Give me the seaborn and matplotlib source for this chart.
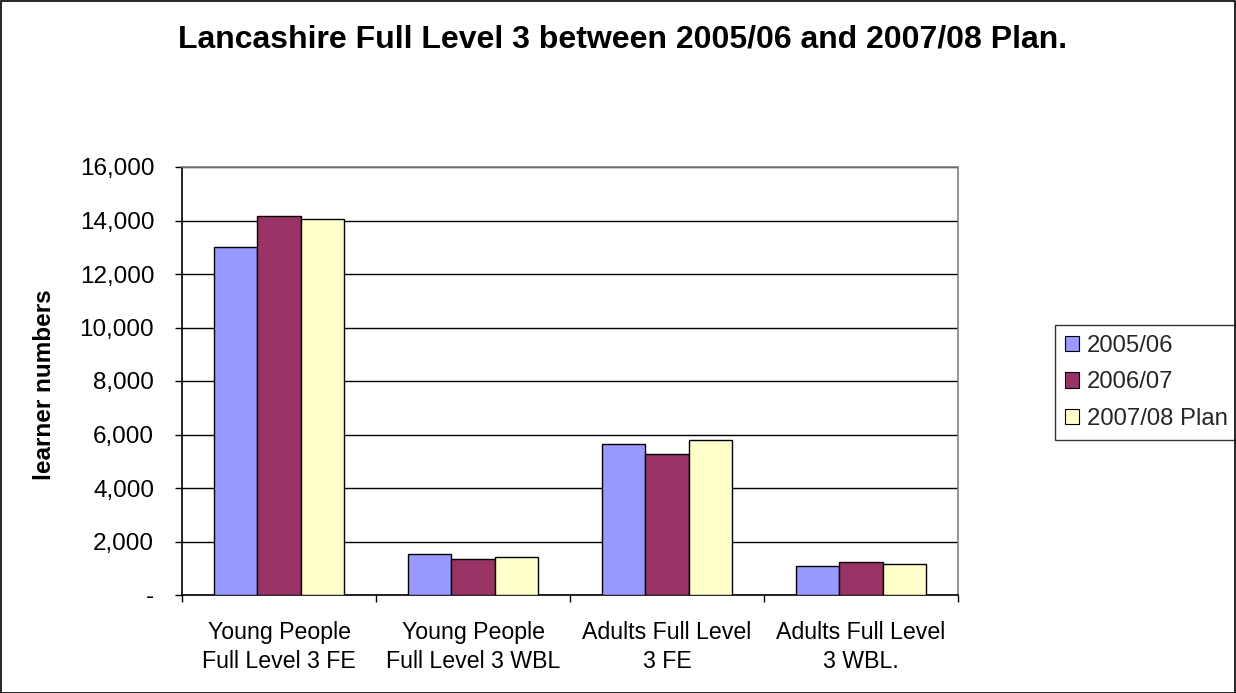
import matplotlib
matplotlib.use("Agg")
import matplotlib.pyplot as plt
import matplotlib.ticker as mticker
from matplotlib.patches import Rectangle
import seaborn as sns
import pandas as pd

categories = ["Young People\nFull Level 3 FE", "Young People\nFull Level 3 WBL",
              "Adults Full Level\n3 FE", "Adults Full Level\n3 WBL."]
series = ["2005/06", "2006/07", "2007/08 Plan"]
v_2005 = [13020, 1530, 5640, 1070]
v_2006 = [14150, 1360, 5270, 1250]
v_2007 = [14050, 1420, 5810, 1150]
colors = ["#9999FF", "#993366", "#FFFFCC"]

rows = []
for s, vals in zip(series, [v_2005, v_2006, v_2007]):
    for c, v in zip(categories, vals):
        rows.append({"cat": c, "series": s, "value": v})
df = pd.DataFrame(rows)

sns.set_theme(style="white")
plt.rcParams['font.family'] = ['Liberation Sans', 'DejaVu Sans']

fig = plt.figure(figsize=(12.36, 6.93), dpi=100)
W, H = 1236, 693
ax = fig.add_axes([182 / W, 1 - 595 / H, (958 - 182) / W, (595 - 167) / H])

sns.barplot(data=df, x="cat", y="value", hue="series", palette=colors,
            order=categories, hue_order=series, width=0.667, gap=0,
            saturation=1, edgecolor="black", linewidth=1.0, ax=ax,
            legend=True, zorder=3)

ax.set_ylim(0, 16000)
ax.set_xlim(-0.5, 3.5)
ax.yaxis.set_major_locator(mticker.MultipleLocator(2000))
ax.yaxis.set_major_formatter(mticker.FuncFormatter(lambda v, p: "-" if v == 0 else f"{int(v):,}"))
ax.grid(axis="y", color="black", linewidth=1.0, zorder=0)
ax.set_axisbelow(True)
for sp in ["left", "bottom"]:
    ax.spines[sp].set_color("black")
    ax.spines[sp].set_linewidth(1.2)
ax.spines["right"].set_color("#808080")
ax.spines["right"].set_linewidth(1.2)
ax.spines["top"].set_color("#808080")
ax.spines["top"].set_linewidth(1.2)

ax.tick_params(axis="y", which="major", left=True, length=5, width=1, color="black",
               labelsize=17.5, pad=15, labelcolor="black")
ax.tick_params(axis="x", which="major", length=0, labelsize=16.7, pad=19, labelcolor="black")
for lbl in ax.get_xticklabels():
    lbl.set_linespacing(1.33)
ax.xaxis.set_minor_locator(mticker.FixedLocator([-0.5, 0.5, 1.5, 2.5, 3.5]))
ax.tick_params(axis="x", which="minor", bottom=True, length=5, width=1, color="black")

ax.set_xlabel("")
ax.set_ylabel("")
fig.text(45 / W, 1 - 385 / H, "learner numbers", rotation=90, ha="center", va="center",
         fontsize=17.5, fontweight="bold", color="black")

fig.text(623 / W, 1 - 40 / H, "Lancashire Full Level 3 between 2005/06 and 2007/08 Plan.",
         ha="center", va="center", fontsize=23, fontweight="bold", color="black")

leg = ax.legend(loc="upper left", bbox_to_anchor=(1055 / W, 1 - 325 / H),
                bbox_transform=fig.transFigure, fontsize=17.2, frameon=True,
                fancybox=False, edgecolor="black", handlelength=0.6, handleheight=0.6,
                handletextpad=0.35, labelspacing=0.62, borderpad=0.4, borderaxespad=0)
leg.get_frame().set_linewidth(1.0)
for h in leg.legend_handles:
    h.set_edgecolor("black")
    h.set_linewidth(0.8)

fig.patches.append(Rectangle((0.5 / W, 0.5 / H), 1 - 1.5 / W, 1 - 1.5 / H,
                             transform=fig.transFigure, fill=False,
                             edgecolor="black", linewidth=1.2))

fig.savefig("out.png", dpi=100)
